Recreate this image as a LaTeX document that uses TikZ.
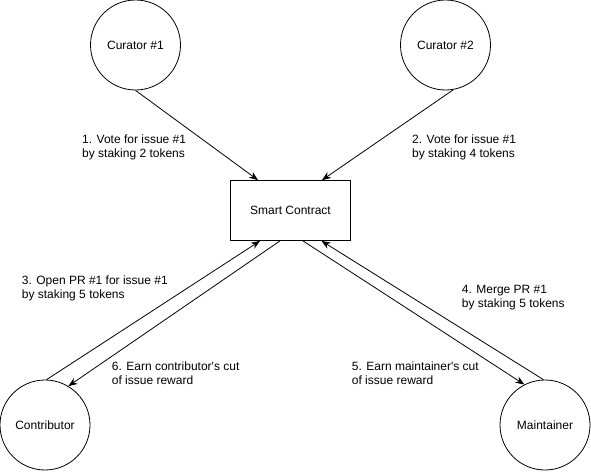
\documentclass[tikz,border=0pt]{standalone}
\usepackage{fontspec}
\setmainfont{Liberation Sans}
\usetikzlibrary{arrows.meta}
\begin{document}
\begin{tikzpicture}[x=1pt,y=-1pt,
  every node/.style={font=\fontsize{12}{14}\selectfont},
  actor/.style={draw,circle,line width=0.8pt,minimum size=90pt,inner sep=0pt},
  contract/.style={draw,rectangle,line width=0.8pt,minimum width=120pt,minimum height=60pt,inner sep=0pt},
  flow/.style={line width=0.8pt,-{Stealth[length=9pt,width=7pt]}},
  note/.style={anchor=west,align=left,inner sep=0pt}]
\useasboundingbox (0,0) rectangle (591,471);

% participants
\node[actor] (cur1) at (135.5,45) {Curator \#1};
\node[actor] (cur2) at (445.5,45) {Curator \#2};
\node[contract] (sc) at (290.5,210.5) {Smart Contract};
\node[actor] (con) at (45,425) {Contributor};
\node[actor] (mnt) at (545,425) {Maintainer};

% curators vote
\draw[flow] (cur1.south) -- ([xshift=-32.5pt]sc.north);
\draw[flow] (cur2.280) -- ([xshift=31.5pt]sc.north);

% contributor exchange
\draw[flow] (con.88) -- ([xshift=-30.5pt]sc.south);
\draw[flow] ([xshift=-10.5pt]sc.south) -- (con.59);

% maintainer exchange
\draw[flow] (mnt.92) -- ([xshift=31pt]sc.south);
\draw[flow] ([xshift=12.5pt]sc.south) -- (mnt.117);

% step labels
\node[note] (l1) at (82,147) {1. Vote for issue \#1\\by staking 2 tokens};
\node[note] (l2) at (412,147) {2. Vote for issue \#1\\by staking 4 tokens};
\node[note] (l3) at (21.7,288) {3. Open PR \#1 for issue \#1\\by staking 5 tokens};
\node[note] (l4) at (461.7,297.4) {4. Merge PR \#1\\by staking 5 tokens};
\node[note] (l5) at (351.7,373.4) {5. Earn maintainer\textquotesingle s cut\\of issue reward};
\node[note] (l6) at (111.7,373.4) {6. Earn contributor\textquotesingle s cut\\of issue reward};
\end{tikzpicture}
\end{document}
